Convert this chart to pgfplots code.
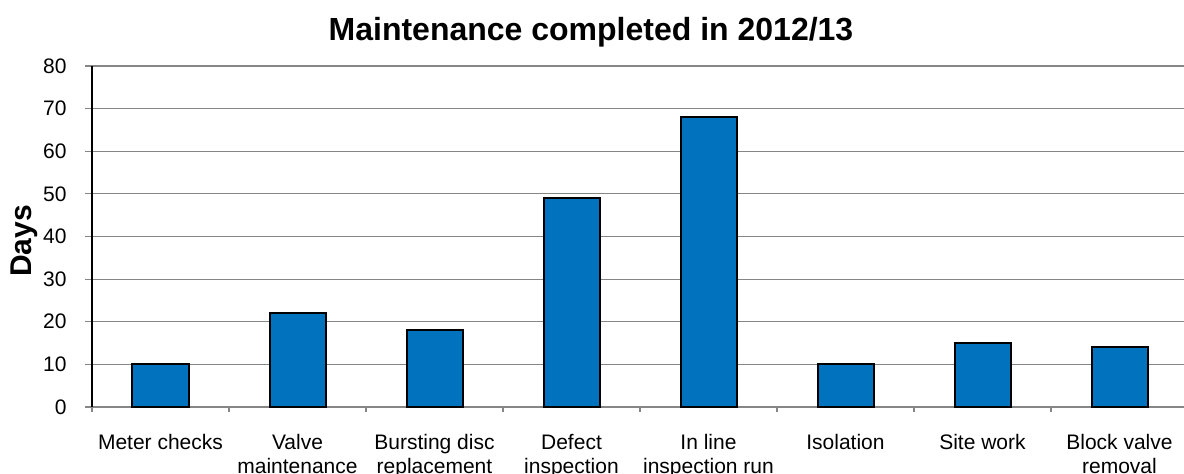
\documentclass[border=0pt]{standalone}
\usepackage{pgfplots}
\pgfplotsset{compat=1.18}
\usepackage{fontspec}
\setmainfont{Liberation Sans}
\definecolor{barblue}{RGB}{0,114,190}
\definecolor{gridgray}{RGB}{134,134,134}
\begin{document}
\begin{tikzpicture}
\path[use as bounding box] (0,0) rectangle (592pt,237pt);
\begin{axis}[
  at={(46pt,33.5pt)}, anchor=south west,
  scale only axis, width=548pt, height=170.5pt,
  xmin=-0.5, xmax=7.5, ymin=0, ymax=80,
  axis x line*=bottom, axis y line*=left,
  x axis line style={-, draw=gridgray, line width=0.6pt},
  y axis line style={-, draw=black, line width=0.9pt},
  ytick={0,10,...,80},
  ymajorgrids, grid style={gridgray, line width=0.6pt},
  major y tick style={gridgray, line width=0.6pt},
  major tick length=3.5pt,
  tick align=outside,
  xtick={0,...,7},
  major x tick style={draw=none},
  minor xtick={-0.5,0.5,...,7.5},
  minor x tick style={gridgray, line width=0.6pt},
  minor tick length=2.5pt,
  xticklabels={Meter checks, Valve\\maintenance, Bursting disc\\replacement, Defect\\inspection, In line\\inspection run, Isolation, Site work, Block valve\\removal},
  xticklabel style={font=\fontsize{10.5}{12}\selectfont, align=center, anchor=north, inner sep=0pt, yshift=-10pt},
  yticklabel style={font=\fontsize{10.5}{12}\selectfont, anchor=east, inner sep=0pt, xshift=-9pt},
  /pgf/number format/assume math mode=true,
  clip=false,
  ybar, bar width=28pt,
]
\addplot[fill=barblue, draw=black, line width=1pt]
  coordinates {(0,10) (1,22) (2,18) (3,49) (4,68) (5,10) (6,15) (7,14)};
\end{axis}
\node[anchor=base, font=\fontsize{16}{19}\selectfont\bfseries] at (295.5pt,216.5pt) {Maintenance completed in 2012/13};
\node[rotate=90, font=\fontsize{15}{18}\selectfont\bfseries] at (12pt,116.5pt) {Days};
\end{tikzpicture}
\end{document}
